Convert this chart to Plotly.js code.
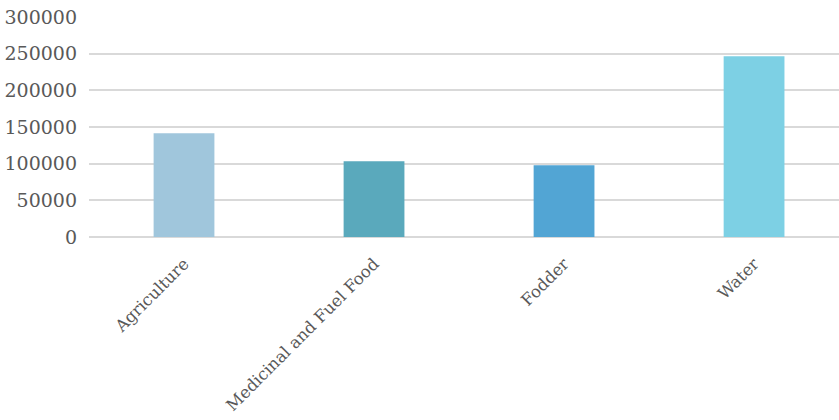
<!DOCTYPE html>
<html>
<head>
<meta charset="utf-8">
<script src="https://cdn.plot.ly/plotly-3.0.1.min.js"></script>
<style>html,body{margin:0;padding:0;background:#fff;}#chart{width:839px;height:420px;}</style>
</head>
<body>
<div id="chart"></div>
<script>
const categories = ["Agriculture", "Medicinal and Fuel Food", "Fodder", "Water"];
const values = [141500, 103300, 97800, 246500];
const barColors = ["#A0C6DC", "#5AA9BC", "#52A5D4", "#7DD0E4"];
const yTicks = [0, 50000, 100000, 150000, 200000, 250000, 300000];

const xFont = {family: "DejaVu Serif", size: 16.5, color: "#595959"};
const yFont = {family: "DejaVu Serif", size: 19, color: "#595959"};

Plotly.newPlot("chart", [{
  type: "bar",
  x: categories,
  y: values,
  marker: {color: barColors},
  width: 0.32,
  hoverinfo: "none"
}], {
  width: 839,
  height: 420,
  margin: {l: 89, r: 0, t: 17, b: 183},
  paper_bgcolor: "#ffffff",
  plot_bgcolor: "#ffffff",
  showlegend: false,
  font: xFont,
  xaxis: {
    type: "category",
    range: [-0.5, 3.447],
    tickangle: -45,
    showgrid: false,
    zeroline: false,
    showline: false,
    ticks: "",
    ticklabelstandoff: 13,
    tickfont: xFont
  },
  yaxis: {
    range: [0, 300000],
    tickvals: yTicks,
    ticktext: yTicks.map(String),
    showgrid: true,
    gridcolor: "#D9D9D9",
    gridwidth: 1.8,
    zeroline: true,
    zerolinecolor: "#D9D9D9",
    zerolinewidth: 1.8,
    showline: false,
    ticks: "",
    ticklabelstandoff: 11,
    tickfont: yFont
  }
}, {displayModeBar: false, staticPlot: true});
</script>
</body>
</html>
